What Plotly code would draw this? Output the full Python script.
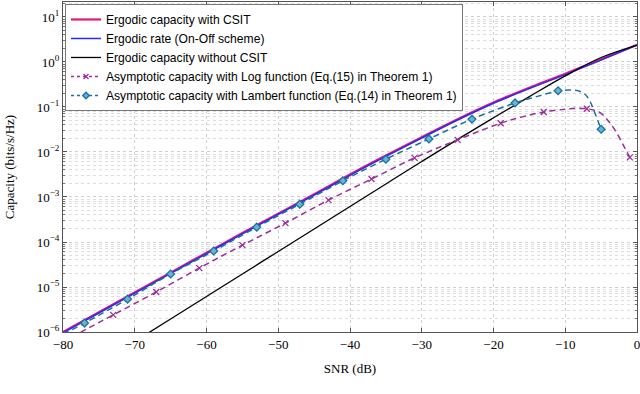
import plotly.graph_objects as go

# ---- data ----
snr_main = [-80, -75, -70, -65, -60, -55, -50, -45, -40, -35, -30, -25, -20, -15, -10, -5, 0]
cap_csit = [1.0e-6, 2.75e-6, 7.59e-6, 2.09e-5, 5.75e-5, 1.58e-4, 4.27e-4, 1.15e-3, 3.16e-3,
            8.32e-3, 2.14e-2, 5.37e-2, 0.126, 0.269, 0.550, 1.148, 2.40]
cap_onoff = [0.96e-6, 2.64e-6, 7.29e-6, 2.01e-5, 5.52e-5, 1.52e-4, 4.10e-4, 1.10e-3, 3.03e-3,
             7.99e-3, 2.05e-2, 5.15e-2, 0.121, 0.257, 0.525, 1.10, 2.38]

snr_nocsit = [-70, -65, -60, -55, -50, -45, -40, -35, -30, -25, -20, -15, -10, -5, 0]
cap_nocsit = [6.17e-7, 1.95e-6, 6.17e-6, 1.95e-5, 6.17e-5, 1.95e-4, 6.17e-4, 1.95e-3, 6.17e-3,
              1.91e-2, 5.75e-2, 0.170, 0.490, 1.259, 2.34]

snr_log = [-80, -77, -73, -67, -61, -55, -49, -43, -37, -31, -25, -19, -16, -13, -10, -8.5,
           -7, -6, -5, -4, -3, -2, -1.5, -1]
cap_log = [6.0e-7, 1.10e-6, 2.40e-6, 7.76e-6, 2.63e-5, 8.51e-5, 2.63e-4, 8.51e-4, 2.51e-3,
           7.41e-3, 1.86e-2, 4.37e-2, 6.03e-2, 7.76e-2, 8.91e-2, 9.44e-2, 9.12e-2, 8.51e-2,
           7.24e-2, 4.90e-2, 2.95e-2, 1.51e-2, 1.07e-2, 7.59e-3]
snr_log_mk = [-73, -67, -61, -55, -49, -43, -37, -31, -25, -19, -13, -7, -1]
cap_log_mk = [2.40e-6, 7.76e-6, 2.63e-5, 8.51e-5, 2.63e-4, 8.51e-4, 2.51e-3, 7.41e-3,
              1.86e-2, 4.37e-2, 7.76e-2, 9.12e-2, 7.59e-3]

snr_lam = [-80, -77, -71, -65, -59, -53, -47, -41, -35, -29, -23, -17, -14, -11, -10, -9, -8,
           -7.5, -7, -6.5, -6, -5.5, -5]
cap_lam = [8.9e-7, 1.58e-6, 5.37e-6, 1.95e-5, 6.31e-5, 2.14e-4, 6.92e-4, 2.29e-3, 6.92e-3,
           1.95e-2, 5.37e-2, 0.123, 0.170, 0.229, 0.237, 0.237, 0.224, 0.204, 0.174, 0.129,
           0.083, 0.052, 0.032]
snr_lam_mk = [-77, -71, -65, -59, -53, -47, -41, -35, -29, -23, -17, -11, -5]
cap_lam_mk = [1.58e-6, 5.37e-6, 1.95e-5, 6.31e-5, 2.14e-4, 6.92e-4, 2.29e-3, 6.92e-3,
              1.95e-2, 5.37e-2, 0.123, 0.229, 0.032]

names = ["Ergodic capacity with CSIT",
         "Ergodic rate (On-Off scheme)",
         "Ergodic capacity without CSIT",
         "Asymptotic capacity with Log function (Eq.(15) in Theorem 1)",
         "Asymptotic capacity with Lambert function (Eq.(14) in Theorem 1)"]
x_ticks = [-80, -70, -60, -50, -40, -30, -20, -10, 0]
x_ticktext = ["−80", "−70", "−60", "−50", "−40", "−30", "−20", "−10", "0"]
y_ticks = [1e-6, 1e-5, 1e-4, 1e-3, 1e-2, 1e-1, 1e0, 1e1]
y_ticktext = ["10<sup>−6</sup>", "10<sup>−5</sup>", "10<sup>−4</sup>", "10<sup>−3</sup>",
              "10<sup>−2</sup>", "10<sup>−1</sup>", "10<sup>0</sup>", "10<sup>1</sup>"]

PINK = "#E8157E"
BLUE = "#2B2BF0"
BLACK = "#000000"
PURPLE = "#9B2C9B"
TEAL = "#17729F"

fig = go.Figure()
fig.add_trace(go.Scatter(x=snr_main, y=cap_csit, mode="lines", name=names[0],
                         line=dict(color=PINK, width=2.2, shape="spline")))
fig.add_trace(go.Scatter(x=snr_main, y=cap_onoff, mode="lines", name=names[1],
                         line=dict(color=BLUE, width=1.5, shape="spline")))
fig.add_trace(go.Scatter(x=snr_nocsit, y=cap_nocsit, mode="lines", name=names[2],
                         line=dict(color=BLACK, width=1.3, shape="spline")))

# Log function (purple)
fig.add_trace(go.Scatter(x=snr_log, y=cap_log, mode="lines", showlegend=False,
                         line=dict(color=PURPLE, width=1.5, dash="6px,4px", shape="spline")))
fig.add_trace(go.Scatter(x=snr_log_mk, y=cap_log_mk, mode="markers", showlegend=False,
                         marker=dict(symbol="x-thin", size=6, line=dict(color=PURPLE, width=1.3))))
fig.add_trace(go.Scatter(x=[None], y=[None], mode="lines+markers", name=names[3],
                         line=dict(color=PURPLE, width=1.5, dash="3px,3px"),
                         marker=dict(symbol="x-thin", size=5, line=dict(color=PURPLE, width=1.3))))

# Lambert function (teal)
fig.add_trace(go.Scatter(x=snr_lam, y=cap_lam, mode="lines", showlegend=False,
                         line=dict(color=TEAL, width=1.5, dash="6px,4px", shape="spline")))
fig.add_trace(go.Scatter(x=snr_lam_mk, y=cap_lam_mk, mode="markers", showlegend=False,
                         marker=dict(symbol="diamond", size=6, color="#6BB2D6",
                                     line=dict(color=TEAL, width=1.3))))
fig.add_trace(go.Scatter(x=[None], y=[None], mode="lines+markers", name=names[4],
                         line=dict(color=TEAL, width=1.5, dash="3px,3px"),
                         marker=dict(symbol="diamond", size=5, color="#6BB2D6",
                                     line=dict(color=TEAL, width=1.3))))

serif = "Liberation Serif, Times New Roman, serif"
grid = "#cfcfcf"

fig.update_layout(
    width=640, height=394,
    margin=dict(l=63, r=3, t=2, b=62),
    plot_bgcolor="white", paper_bgcolor="white",
    font=dict(family=serif, size=13, color="black"),
    showlegend=True,
    legend=dict(x=0.0035, y=0.994, xanchor="left", yanchor="top",
                bgcolor="white", bordercolor="#777777", borderwidth=1,
                font=dict(family="Liberation Sans, Arial, sans-serif", size=12.1),
                tracegroupgap=0, itemwidth=30),
    xaxis=dict(range=[-80, 0], tickmode="array", tickvals=x_ticks, ticktext=x_ticktext,
               automargin=False, ticklabeloverflow="allow",
               showline=True, linecolor="#555555", linewidth=1, mirror="ticks",
               ticks="inside", ticklen=4, tickcolor="#555555",
               showgrid=True, gridcolor=grid, griddash="dot", gridwidth=1,
               zeroline=False,
               title=dict(text="SNR (dB)", font=dict(family=serif, size=13), standoff=13),
               tickfont=dict(family=serif, size=13)),
    yaxis=dict(type="log", range=[-6, 1.333], tickmode="array", tickvals=y_ticks,
               ticktext=y_ticktext, automargin=False,
               showline=True, linecolor="#555555", linewidth=1, mirror="ticks",
               ticks="inside", ticklen=4, tickcolor="#555555",
               showgrid=True, gridcolor=grid, griddash="dot", gridwidth=1,
               minor=dict(ticks="inside", ticklen=2, tickcolor="#777777",
                          tickvals=[m * 10.0 ** e for e in range(-6, 2) for m in range(2, 10)],
                          showgrid=True, gridcolor="#dedede", griddash="dot", gridwidth=1),
               zeroline=False,
               title=dict(text="Capacity (bits/s/Hz)", font=dict(family=serif, size=13), standoff=19),
               tickfont=dict(family=serif, size=13)),
)

fig.write_html("out.html", config={"displayModeBar": False},
               post_script="document.body.style.margin='0px';")
